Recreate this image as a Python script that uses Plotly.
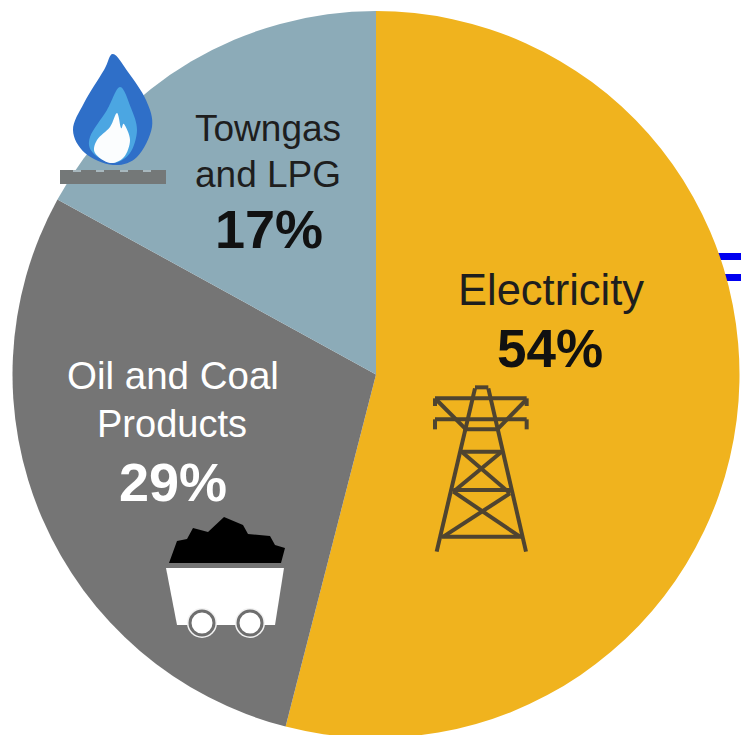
import plotly.graph_objects as go

# Data
categories = ["Electricity", "Oil and Coal Products", "Towngas and LPG"]
values = [54, 29, 17]
colors = ["#F0B31E", "#757575", "#8CABB8"]

W, H = 741, 748  # page clips at 735; the pie runs slightly past the bottom edge
CX, CY, R = 376, 374.5, 363.5


def px(x, y):
    return x / W, 1 - y / H


def poly(points, fill, smooth=False):
    p = [px(*q) for q in points]
    s = f"M{p[0][0]},{p[0][1]}"
    for q in p[1:]:
        s += f" L{q[0]},{q[1]}"
    s += " Z"
    return dict(type="path", xref="paper", yref="paper", path=s, fillcolor=fill,
                line=dict(width=0), layer="above")


def blob(points, fill):
    """closed Catmull-Rom outline through the points, for the flame"""
    n = len(points)
    a = px(*points[0])
    s = f"M{a[0]},{a[1]}"
    for i in range(n):
        p0, p1, p2, p3 = points[i - 1], points[i], points[(i + 1) % n], points[(i + 2) % n]
        c1 = px(p1[0] + (p2[0] - p0[0]) / 6, p1[1] + (p2[1] - p0[1]) / 6)
        c2 = px(p2[0] - (p3[0] - p1[0]) / 6, p2[1] - (p3[1] - p1[1]) / 6)
        e = px(*p2)
        s += f" C{c1[0]},{c1[1]} {c2[0]},{c2[1]} {e[0]},{e[1]}"
    s += " Z"
    return dict(type="path", xref="paper", yref="paper", path=s, fillcolor=fill,
                line=dict(width=0), layer="above")


def seg(x0, y0, x1, y1, color, width):
    a, b = px(x0, y0), px(x1, y1)
    return dict(type="line", xref="paper", yref="paper", x0=a[0], y0=a[1], x1=b[0], y1=b[1],
                line=dict(color=color, width=width), layer="above")


def circ(x, y, r, fill, line_color=None, lw=0):
    a, b = px(x - r, y - r), px(x + r, y + r)
    return dict(type="circle", xref="paper", yref="paper", x0=a[0], y0=a[1], x1=b[0], y1=b[1],
                fillcolor=fill, line=dict(color=line_color or fill, width=lw), layer="above")


shapes = []

# blue stripes behind the pie at the right edge
for y0, y1 in [(253, 260), (274, 281)]:
    a, b = px(690, y0), px(741, y1)
    shapes.append(dict(type="rect", xref="paper", yref="paper", x0=a[0], y0=a[1], x1=b[0], y1=b[1],
                       fillcolor="#0000F0", line=dict(width=0), layer="below"))

# flame and burner
shapes.append(blob([(113, 54), (128, 72), (146, 100), (152, 127), (137, 157), (113, 165),
                    (85, 153), (73, 130), (84, 103), (104, 70)], "#2F6FC8"))
shapes.append(blob([(120, 87), (131, 108), (137, 130), (130, 153), (113, 163), (93, 153),
                    (90, 137), (107, 110)], "#4BA6E2"))
shapes.append(blob([(117, 113), (121, 128), (124, 124), (130, 140), (124, 157), (110, 163),
                    (95, 153), (97, 140), (110, 127)], "#FBFDFE"))
a, b = px(60, 170), px(166, 184)
shapes.append(dict(type="rect", xref="paper", yref="paper", x0=a[0], y0=a[1], x1=b[0], y1=b[1],
                   fillcolor="#747878", line=dict(width=0), layer="above"))
for x in (77, 100, 124, 147):
    shapes.append(seg(x - 4, 171, x + 4, 171, "#A8B8BE", 2))

# coal cart
shapes.append(poly([(169, 563), (177, 541), (187, 539), (193, 528), (208, 532), (224, 517),
                    (243, 525), (248, 534), (270, 536), (275, 545), (285, 548), (281, 563)], "#000000"))
shapes.append(poly([(166, 568), (284, 568), (275, 625), (177, 625)], "#FFFFFF"))
for x in (202, 250):
    shapes.append(circ(x, 623, 15, "#F2F2F2"))
    shapes.append(circ(x, 623, 12, "#FFFFFF", "#6E6E6E", 3))

# pylon
INK = "#4F4430"


def T(x, y):
    return 420 + x / 3, 370 + y / 3


tower = [
    ((165, 55), (50, 545)), ((205, 55), (318, 545)), ((165, 52), (205, 52)),
    ((45, 85), (320, 85)), ((45, 85), (45, 108)), ((320, 85), (320, 108)),
    ((45, 148), (320, 148)), ((45, 148), (45, 178)), ((320, 148), (320, 178)),
    ((50, 90), (135, 175)), ((318, 90), (235, 175)),
    ((130, 178), (240, 178)), ((125, 245), (245, 245)),
    ((125, 245), (270, 370)), ((245, 245), (100, 365)),
    ((100, 360), (270, 360)), ((100, 365), (300, 500)), ((270, 370), (70, 500)),
    ((65, 500), (305, 500)),
]
for p, q in tower:
    shapes.append(seg(*T(*p), *T(*q), INK, 4))

# text
texts = [
    ("Electricity", 551, 290, 43.5, "#1E1E1E", False),
    ("54%", 550, 348, 53, "#111111", True),
    ("Towngas", 268, 128, 37, "#1E1E1E", False),
    ("and LPG", 268, 174, 37, "#1E1E1E", False),
    ("17%", 269, 229, 54, "#111111", True),
    ("Oil and Coal", 173, 375, 38.5, "#FFFFFF", False),
    ("Products", 172, 424, 38, "#FFFFFF", False),
    ("29%", 173, 482, 54, "#FFFFFF", True),
]
annotations = []
for t, x, y, size, color, bold in texts:
    a = px(x, y)
    annotations.append(dict(text=f"<b>{t}</b>" if bold else t, x=a[0], y=a[1], xref="paper", yref="paper",
                            showarrow=False, xanchor="center", yanchor="middle",
                            font=dict(family="Liberation Sans", size=size, color=color)))

fig = go.Figure(go.Pie(
    labels=categories, values=values, sort=False, direction="clockwise", rotation=0,
    marker=dict(colors=colors, line=dict(width=0)), textinfo="none", hoverinfo="label+percent",
    showlegend=False,
    domain=dict(x=[(CX - R) / W, min(1, (CX + R) / W)], y=[1 - (CY + R) / H, 1 - (CY - R) / H]),
))
fig.update_layout(width=W, height=H, margin=dict(l=0, r=0, t=0, b=0), paper_bgcolor="#FFFFFF",
                  showlegend=False, shapes=shapes, annotations=annotations)
fig.write_html("out.html", config=dict(displayModeBar=False),
               post_script="document.body.style.margin='0';document.body.style.overflow='hidden';"
                           "document.documentElement.style.overflow='hidden';")
